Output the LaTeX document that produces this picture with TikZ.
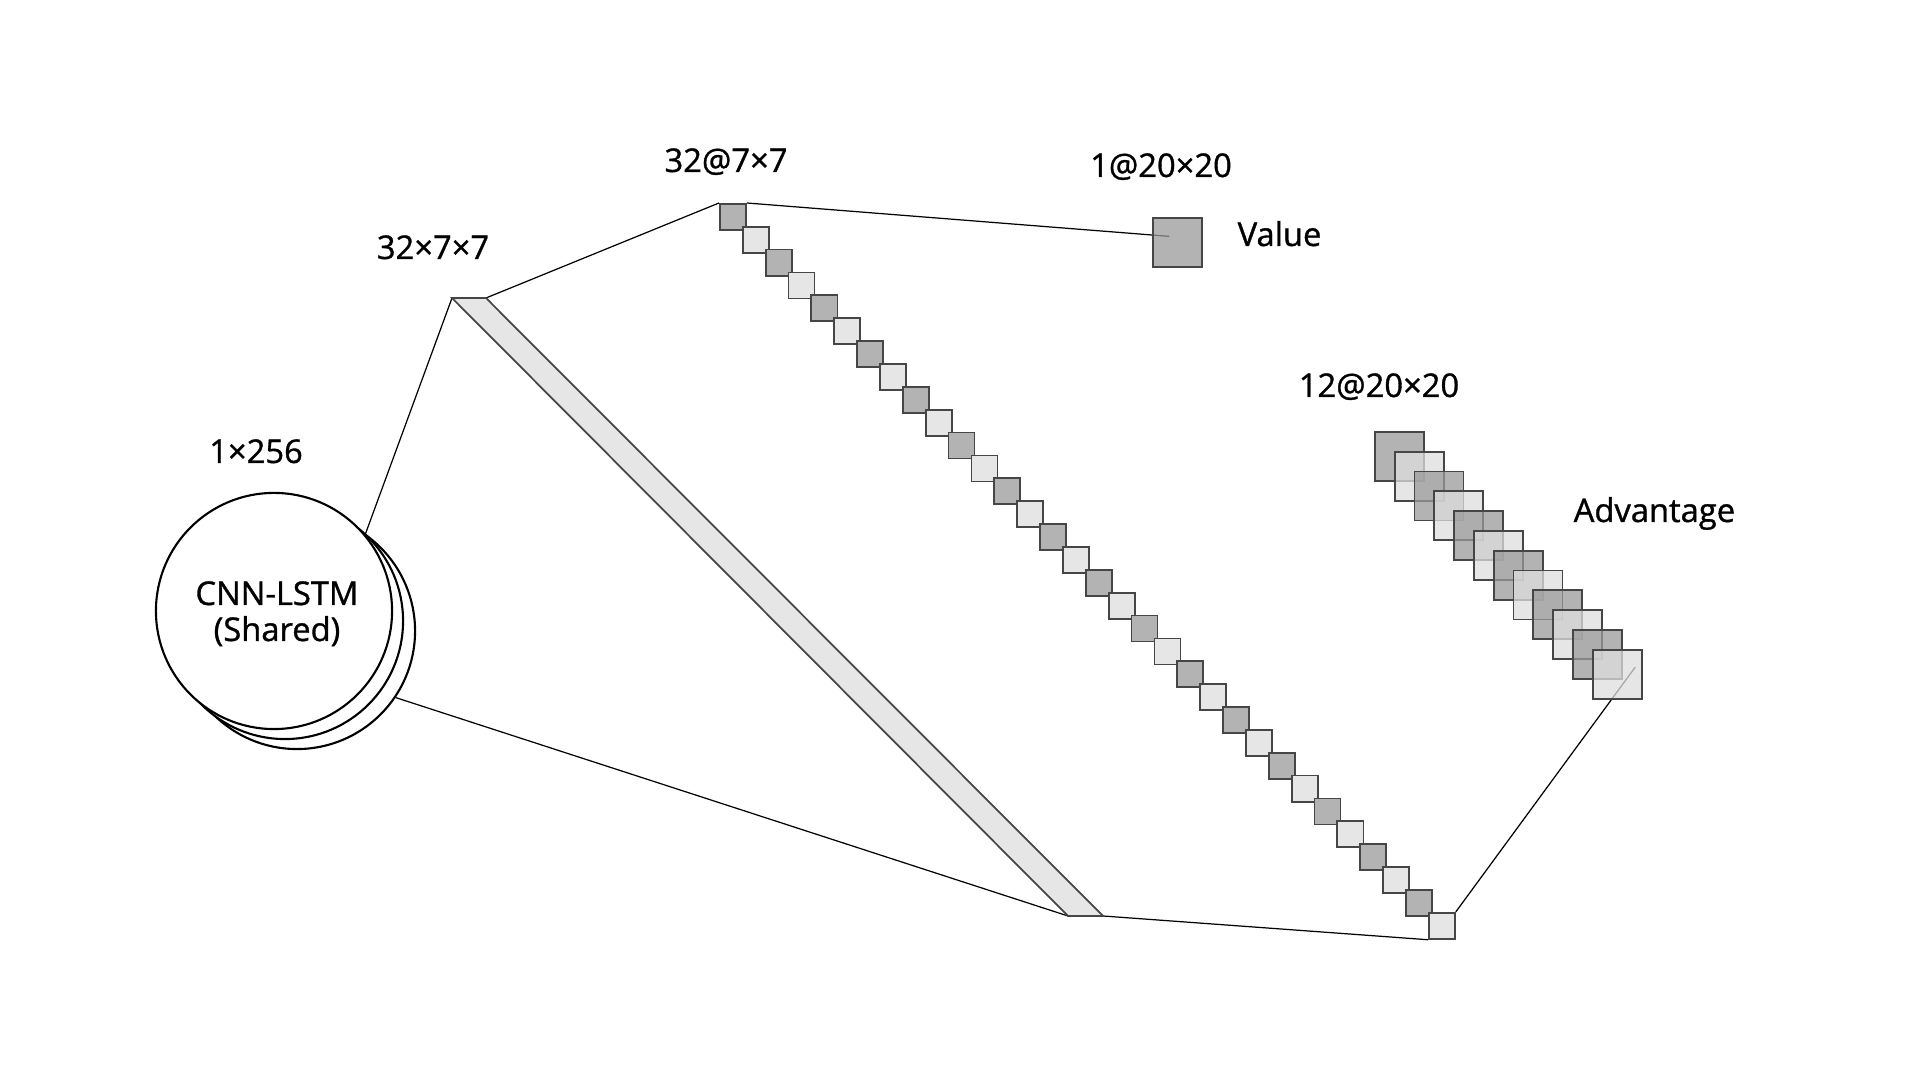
\documentclass[tikz,border=0pt]{standalone}
\usepackage{fontspec}
\setmainfont[FakeBold=1]{Open Sans}
\usetikzlibrary{backgrounds}

\definecolor{darkfill}{RGB}{154,154,154}
\definecolor{lightfill}{RGB}{222,222,222}
\definecolor{darksolid}{RGB}{179,179,179}
\definecolor{lightsolid}{RGB}{230,230,230}
\definecolor{edgegray}{RGB}{70,70,70}

\tikzset{
  layer/.style={draw=edgegray, line width=0.5pt, inner sep=0pt, anchor=north west},
  chan/.style={layer, minimum size=0.26cm},
  fmap/.style={layer, fill opacity=0.75, minimum size=0.49cm},
  cell/.style={circle, draw, line width=0.6pt, fill=white, inner sep=0pt, minimum size=2.36cm},
  lbl/.style={anchor=base, inner sep=0pt},
  wire/.style={line width=0.35pt}
}

\begin{document}
\begin{tikzpicture}[x=0.01cm, y=-0.01cm, font=\fontsize{9.3}{11}\selectfont]
\useasboundingbox (0,0) rectangle (1920,1080);

\coordinate (NW) at (452,298);
\coordinate (NE) at (486,298);
\coordinate (SE) at (1103,916);
\coordinate (SW) at (1068,916);

\node[cell] (lstmC) at (297,631) {};
\node[cell] (lstmB) at (285,621) {};
\node[cell] (lstm) at (274,611) {};
\node[lbl] (lstmA) at (277,605) {CNN-LSTM};
\node[lbl] (lstmS) at (277,641) {(Shared)};

\draw[fill=lightsolid, draw=edgegray, line width=0.5pt] (NW) -- (NE) -- (SE) -- (SW) -- cycle;

\foreach \i in {0,...,31}{
  \ifodd\i\relax\colorlet{tone}{lightsolid}\else\colorlet{tone}{darksolid}\fi
  \node[chan, fill=tone] (c\i) at ({719+22.87*\i},{203+22.87*\i}) {};
}

\node[fmap, fill=darkfill] (value) at (1152,217) {};

\foreach \i in {0,...,11}{
  \ifodd\i\relax\colorlet{tone}{lightfill}\else\colorlet{tone}{darkfill}\fi
  \node[fmap, fill=tone] (a\i) at ({1374+19.8*\i},{431+19.8*\i}) {};
}

\coordinate (vIn) at ([shift={(-8,-6)}]value.center);
\coordinate (aIn) at ([shift={(18,-7)}]a11.center);

\begin{scope}[on background layer, every path/.style={wire}]
\draw (lstm.40) -- (NW);
\draw (lstmC.-34) -- (SW);
\draw (NE) -- (c0.north west);
\draw (SE) -- (c31.south west);
\draw (c0.north east) -- (vIn);
\draw (c31.north east) -- (aIn);
\end{scope}

\node[lbl] (l256) at (256,463) {1×256};
\node[lbl] (lflat) at (433,259) {32×7×7};
\node[lbl] (lchan) at (726,172) {32@7×7};
\node[lbl] (lvdim) at (1161,177) {1@20×20};
\node[lbl, anchor=base west] (lvalue) at (1237,246) {Value};
\node[lbl] (ladim) at (1379,397) {12@20×20};
\node[lbl, anchor=base west] (ladv) at (1573,522) {Advantage};

\end{tikzpicture}
\end{document}
